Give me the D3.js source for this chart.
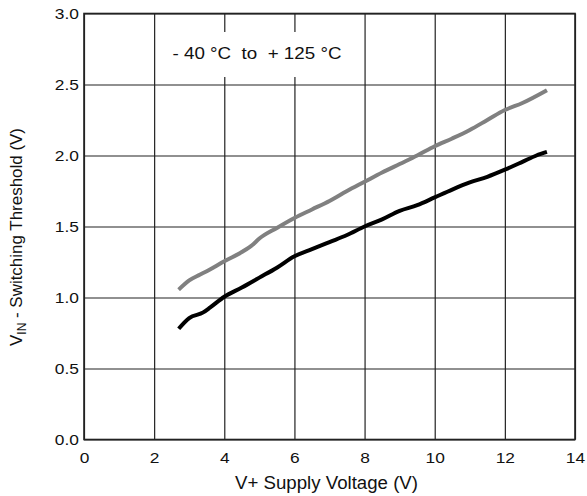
<!DOCTYPE html>
<html lang="en">
<head>
    <meta charset="UTF-8">
    <title>Switching Threshold vs Supply Voltage</title>
    <script src="https://d3js.org/d3.v7.min.js"></script>
    <style>
        body {
            margin: 0;
            background: #fff;
            font-family: "Liberation Sans", Arial, sans-serif;
        }
        .axis text {
            font-family: "Liberation Sans", Arial, sans-serif;
            font-size: 15.5px;
            fill: #111;
        }
        .axis path { display: none; }
        .axis line { stroke: #222; stroke-width: 1.2; }
    </style>
</head>
<body>
    <svg width="587" height="496"></svg>
    <script>
        // data
        const xTicks = [0, 2, 4, 6, 8, 10, 12, 14];
        const yTicks = [0.0, 0.5, 1.0, 1.5, 2.0, 2.5, 3.0];

        const lowX = [2.7, 3.0, 3.4, 3.6, 4.0, 4.5, 5.0, 5.5, 6.0, 6.5, 7.0, 7.5, 8.0,
                      8.5, 9.0, 9.5, 10.0, 10.5, 11.0, 11.5, 12.0, 12.5, 12.9, 13.2];
        const lowY = [0.78, 0.855, 0.895, 0.93, 1.005, 1.07, 1.14, 1.21, 1.29, 1.34, 1.39, 1.44, 1.50,
                      1.55, 1.61, 1.65, 1.705, 1.76, 1.81, 1.85, 1.90, 1.955, 2.00, 2.025];

        const highX = [2.7, 3.0, 3.3, 3.5, 4.0, 4.5, 4.8, 5.0, 5.5, 6.0, 6.5, 7.0, 7.5, 8.0,
                       8.5, 9.0, 9.5, 10.0, 10.5, 11.0, 11.5, 12.0, 12.5, 13.2];
        const highY = [1.055, 1.12, 1.16, 1.185, 1.255, 1.32, 1.37, 1.415, 1.49, 1.56, 1.62, 1.68, 1.75, 1.815,
                       1.88, 1.94, 2.00, 2.065, 2.12, 2.18, 2.25, 2.32, 2.37, 2.46];

        const note = "- 40 °C  to  + 125 °C";

        const svg = d3.select("svg");
        const mLeft = 84, mRight = 575, mTop = 13.5, mBottom = 439.5;

        const x = d3.scaleLinear().domain([0, 14]).range([mLeft, mRight]);
        const y = d3.scaleLinear().domain([0, 3]).range([mBottom, mTop]);

        // grid + tick labels
        const gx = svg.append("g")
            .attr("class", "axis")
            .attr("transform", `translate(0,${mBottom})`)
            .call(d3.axisBottom(x).tickValues(xTicks)
                .tickSizeInner(-(mBottom - mTop)).tickSizeOuter(0).tickPadding(12.5)
                .tickFormat(d3.format("d")));
        gx.selectAll("text").attr("transform", "scale(1.12,1)");

        const gy = svg.append("g")
            .attr("class", "axis")
            .attr("transform", `translate(${mLeft},0)`)
            .call(d3.axisLeft(y).tickValues(yTicks)
                .tickSizeInner(-(mRight - mLeft)).tickSizeOuter(0).tickPadding(4.5)
                .tickFormat(d3.format(".1f")));
        gy.selectAll("text").attr("transform", "scale(1.12,1)");

        // frame
        svg.append("rect")
            .attr("x", mLeft).attr("y", mTop)
            .attr("width", mRight - mLeft).attr("height", mBottom - mTop)
            .attr("fill", "none")
            .attr("stroke", "#222")
            .attr("stroke-width", 1.6);

        // annotation box
        svg.append("rect")
            .attr("x", 160).attr("y", 32)
            .attr("width", 195).attr("height", 45)
            .attr("fill", "#fff");
        svg.append("text")
            .attr("x", 257).attr("y", 58.5)
            .attr("text-anchor", "middle")
            .attr("font-size", 16.5)
            .attr("textLength", 169)
            .attr("lengthAdjust", "spacingAndGlyphs")
            .style("white-space", "pre")
            .attr("fill", "#111")
            .text(note);

        // curves
        const line = d3.line()
            .x(d => x(d[0]))
            .y(d => y(d[1]))
            .curve(d3.curveMonotoneX);

        svg.append("path")
            .datum(d3.zip(highX, highY))
            .attr("d", line)
            .attr("fill", "none")
            .attr("stroke", "#808080")
            .attr("stroke-width", 4);

        svg.append("path")
            .datum(d3.zip(lowX, lowY))
            .attr("d", line)
            .attr("fill", "none")
            .attr("stroke", "#000")
            .attr("stroke-width", 4);

        // axis titles
        svg.append("text")
            .attr("x", 326.5).attr("y", 489)
            .attr("text-anchor", "middle")
            .attr("font-size", 17.5)
            .attr("textLength", 183)
            .attr("lengthAdjust", "spacingAndGlyphs")
            .attr("fill", "#111")
            .text("V+ Supply Voltage (V)");

        const yl = svg.append("text")
            .attr("transform", "translate(22,237) rotate(-90)")
            .attr("text-anchor", "middle")
            .attr("font-size", 17)
            .attr("textLength", 218)
            .attr("lengthAdjust", "spacingAndGlyphs")
            .attr("fill", "#111");
        yl.append("tspan").text("V");
        yl.append("tspan").attr("font-size", 12).attr("dy", 4).text("IN");
        yl.append("tspan").attr("dy", -4).text(" - Switching Threshold (V)");
    </script>
</body>
</html>
